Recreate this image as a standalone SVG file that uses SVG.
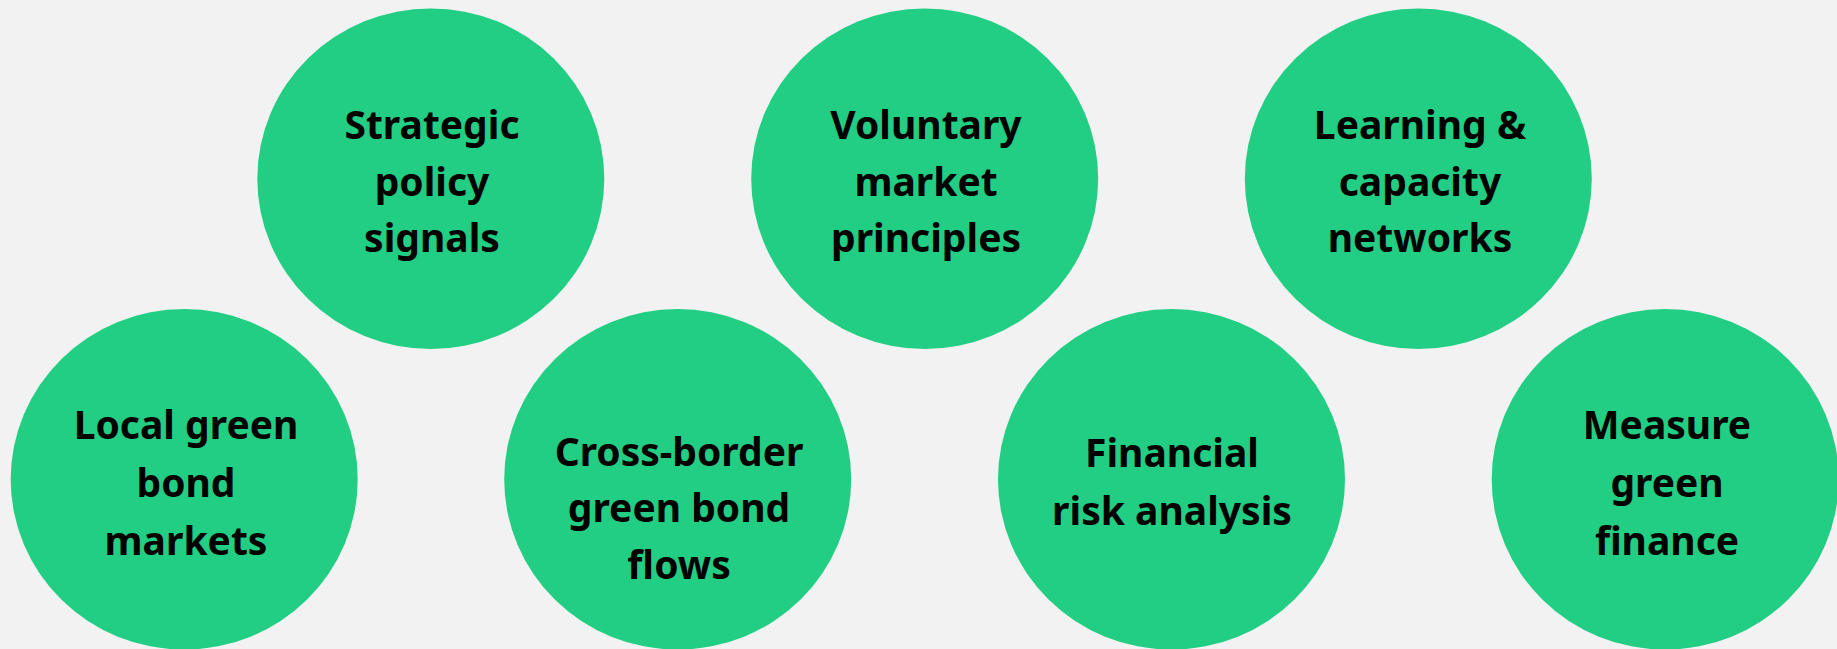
<svg xmlns="http://www.w3.org/2000/svg" width="1837" height="649" viewBox="0 0 1837 649">
<style>
.n{fill:#22CE83}
.t{font-family:"Noto Sans","Liberation Sans",sans-serif;font-weight:700;font-size:39px;fill:#000;text-anchor:middle}
</style>
<rect width="1837" height="649" fill="#F2F2F2"/>
<g id="connectors"></g>
<g id="strategic"><ellipse class="n" cx="430.8" cy="178.7" rx="173.5" ry="170.3"/>
<text class="t"><tspan x="432" y="139">Strategic</tspan><tspan x="432" y="195.5">policy</tspan><tspan x="432" y="251.7">signals</tspan></text></g>
<g id="voluntary"><ellipse class="n" cx="924.7" cy="178.7" rx="173.5" ry="170.3"/>
<text class="t"><tspan x="926" y="139">Voluntary</tspan><tspan x="926" y="195.5">market</tspan><tspan x="926" y="251.7">principles</tspan></text></g>
<g id="learning"><ellipse class="n" cx="1418.3" cy="178.7" rx="173.5" ry="170.3"/>
<text class="t"><tspan x="1420" y="139">Learning &amp;</tspan><tspan x="1420" y="195.5">capacity</tspan><tspan x="1420" y="251.7">networks</tspan></text></g>
<g id="local"><ellipse class="n" cx="184.2" cy="479.3" rx="173.5" ry="170.3"/>
<text class="t"><tspan x="186" y="439">Local green</tspan><tspan x="186" y="496.7">bond</tspan><tspan x="186" y="555">markets</tspan></text></g>
<g id="crossborder"><ellipse class="n" cx="677.7" cy="479.3" rx="173.5" ry="170.3"/>
<text class="t"><tspan x="679" y="465.7">Cross-border</tspan><tspan x="679" y="522.3">green bond</tspan><tspan x="679" y="579">flows</tspan></text></g>
<g id="financial"><ellipse class="n" cx="1171.5" cy="479.3" rx="173.5" ry="170.3"/>
<text class="t"><tspan x="1172" y="467.3">Financial</tspan><tspan x="1172" y="525">risk analysis</tspan></text></g>
<g id="measure"><ellipse class="n" cx="1665.2" cy="479.3" rx="173.5" ry="170.3"/>
<text class="t"><tspan x="1667" y="439">Measure</tspan><tspan x="1667" y="496.7">green</tspan><tspan x="1667" y="555">finance</tspan></text></g>
</svg>
